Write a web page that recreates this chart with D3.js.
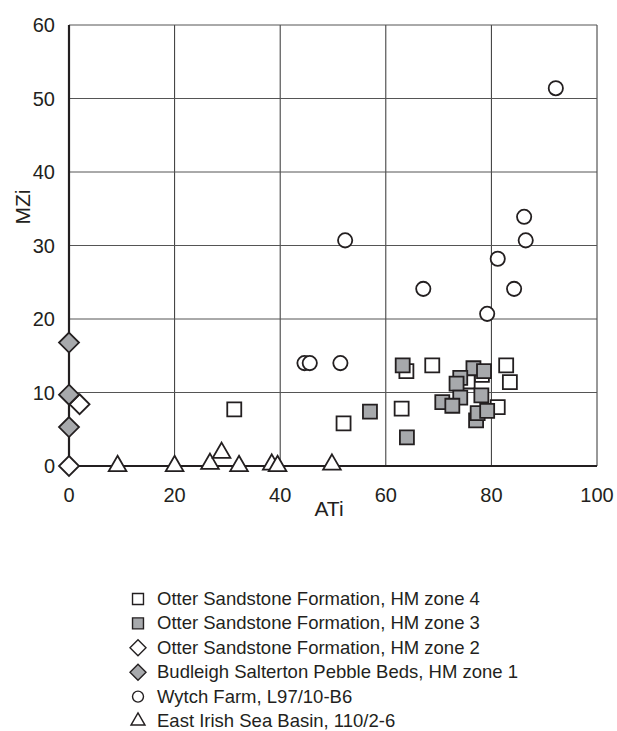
<!DOCTYPE html>
<html><head><meta charset="utf-8">
<script src="https://cdn.jsdelivr.net/npm/d3@7/dist/d3.min.js"></script>
<style>body{margin:0;background:#fff;}text{font-family:Arial,"Liberation Sans",sans-serif;fill:#231f20;}</style>
</head><body><svg id="c" width="617" height="731"></svg>
<script>
const xTicks = [0,20,40,60,80,100];
const yTicks = [0,10,20,30,40,50,60];
const xLabel = "ATi", yLabel = "MZi";
const seriesNames = [
  "Otter Sandstone Formation, HM zone 4",
  "Otter Sandstone Formation, HM zone 3",
  "Otter Sandstone Formation, HM zone 2",
  "Budleigh Salterton Pebble Beds, HM zone 1",
  "Wytch Farm, L97/10-B6",
  "East Irish Sea Basin, 110/2-6"
];
const zone4 = [[31.3,7.7],[52,5.8],[63,7.8],[63.9,12.9],[68.8,13.7],[82.8,13.7],[83.5,11.4],[81.2,8.0],[78.2,12.4],[75.5,11.5]];
const zone3 = [[63.2,13.7],[76.6,13.3],[78.6,12.9],[74.1,12.0],[73.4,11.2],[74.1,9.3],[70.7,8.7],[72.6,8.2],[78.1,9.6],[77.1,6.2],[77.4,7.2],[79.2,7.5],[64,3.9],[57,7.4]];
const zone2 = [[2,8.4],[0,0]];
const zone1 = [[0,16.8],[0,9.7],[0,5.3]];
const wytch = [[92.2,51.4],[86.2,33.9],[86.5,30.7],[52.3,30.7],[81.2,28.2],[67.1,24.1],[84.3,24.1],[79.2,20.7],[44.6,14.0],[45.6,14.0],[51.4,14.0]];
const eisb = [[9.2,0],[20,0],[26.7,0.3],[28.9,1.8],[32.2,0],[38.4,0.2],[39.5,0],[49.8,0.2]];

const svg = d3.select("#c");
const x = d3.scaleLinear().domain([0,100]).range([69,597]);
const y = d3.scaleLinear().domain([0,60]).range([466,25]);

// gridlines
svg.append("g").selectAll("line").data(xTicks.slice(1)).join("line")
  .attr("x1",d=>x(d)).attr("x2",d=>x(d)).attr("y1",y(0)).attr("y2",y(60))
  .attr("stroke","#333").attr("stroke-width",1);
svg.append("g").selectAll("line").data(yTicks.slice(1)).join("line")
  .attr("x1",x(0)).attr("x2",x(100)).attr("y1",d=>y(d)).attr("y2",d=>y(d))
  .attr("stroke","#555").attr("stroke-width",1);
// axes
svg.append("line").attr("x1",x(0)).attr("x2",x(0)).attr("y1",y(0)).attr("y2",y(60)).attr("stroke","#231f20").attr("stroke-width",2.2);
svg.append("line").attr("x1",x(0)).attr("x2",x(100)).attr("y1",y(0)).attr("y2",y(0)).attr("stroke","#231f20").attr("stroke-width",2.2);

// tick labels
svg.append("g").selectAll("text").data(yTicks).join("text")
  .attr("x",55).attr("y",d=>y(d)+7).attr("text-anchor","end").attr("font-size",20).text(d=>d);
svg.append("g").selectAll("text").data(xTicks).join("text")
  .attr("x",d=>x(d)).attr("y",502).attr("text-anchor","middle").attr("font-size",20).text(d=>d);
svg.append("text").attr("x",329).attr("y",516).attr("text-anchor","middle").attr("font-size",21).text(xLabel);
svg.append("text").attr("transform","translate(30,207) rotate(-90)").attr("text-anchor","middle").attr("font-size",21).text(yLabel);

const gray = "#a7a9ac", stroke = "#231f20";
const diamond = r => `M0,${-r}L${r},0L0,${r}L${-r},0Z`;
const sym = {
  sq: d3.symbol().type(d3.symbolSquare).size(196),
  dia: () => diamond(10),
  cir: d3.symbol().type(d3.symbolCircle).size(160),
  tri: d3.symbol().type(d3.symbolTriangle).size(135)
};
const series = [
  {data:zone4, s:sym.sq, fill:"#fff"},
  {data:zone3, s:sym.sq, fill:gray},
  {data:zone2, s:sym.dia, fill:"#fff"},
  {data:zone1, s:sym.dia, fill:gray},
  {data:wytch, s:sym.cir, fill:"#fff"},
  {data:eisb, s:sym.tri, fill:"#fff"}
];
const drawOrder = [5,4,0,1,2,3];
drawOrder.forEach(i=>{
  const sr = series[i];
  svg.append("g").selectAll("path").data(sr.data).join("path")
    .attr("d",sr.s()).attr("transform",d=>`translate(${x(d[0])},${y(d[1])})`)
    .attr("fill",sr.fill).attr("stroke",stroke).attr("stroke-width",1.8);
});

// legend
const legSym = [
  d3.symbol().type(d3.symbolSquare).size(120),
  d3.symbol().type(d3.symbolSquare).size(120),
  () => diamond(8),
  () => diamond(8),
  d3.symbol().type(d3.symbolCircle).size(95),
  d3.symbol().type(d3.symbolTriangle).size(85)
];
const lg = svg.append("g");
seriesNames.forEach((n,i)=>{
  const cy = 599 + i*24.4;
  lg.append("path").attr("d",legSym[i]()).attr("transform",`translate(138,${cy})`)
    .attr("fill",series[i].fill).attr("stroke",stroke).attr("stroke-width",1.4);
  lg.append("text").attr("x",157).attr("y",cy+6).attr("font-size",18.5).text(n);
});
</script></body></html>
